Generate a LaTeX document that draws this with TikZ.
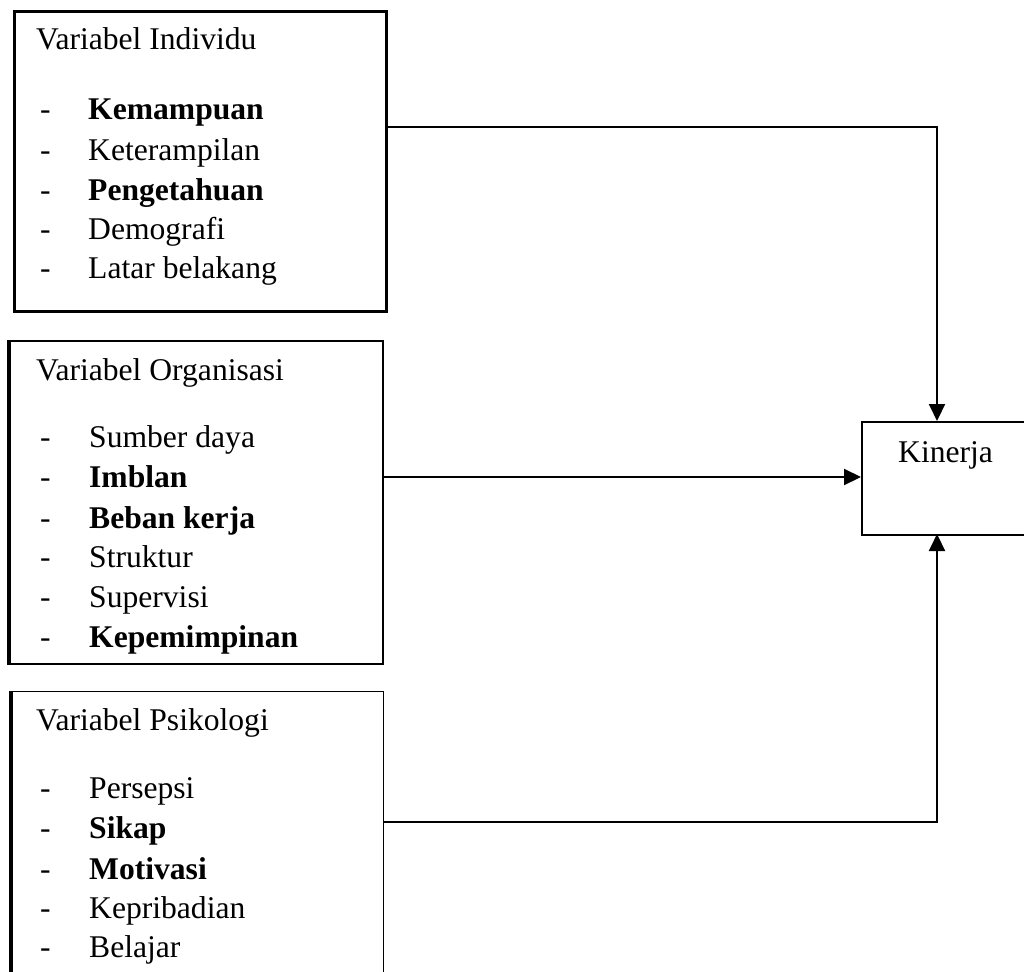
\documentclass[tikz,border=0pt]{standalone}
\usepackage{fontspec}
\setmainfont{Liberation Serif}
\usetikzlibrary{arrows.meta}
\begin{document}
\begin{tikzpicture}[x=1pt,y=-1pt,
  txt/.style={anchor=base west,inner sep=0pt,font=\fontsize{31.6}{36}\selectfont},
  btxt/.style={txt,font=\fontsize{31.6}{36}\selectfont\bfseries},
  box/.style={draw,line width=#1,inner sep=0pt,anchor=north west,fill=none},
  arr/.style={line width=2.1pt,-{Triangle[length=17pt,width=16pt]}}]
\useasboundingbox (0,0) rectangle (1024,971);
\clip (0,0) rectangle (1024,971);
% boxes
\node[box=2.6pt,minimum width=372pt,minimum height=300pt] (b1) at (13,10) {};
\node[box=1.6pt,minimum width=373pt,minimum height=323pt] (b2) at (9,340) {};
\node[box=1.3pt,minimum width=372pt,minimum height=320pt] (b3) at (11,691) {};
\draw[line width=4pt] (b2.north west) -- (b2.south west);
\draw[line width=4pt] (b3.north west) -- (b3.south west);
\node[box=2.2pt,minimum width=220pt,minimum height=113pt] (k) at (861,421) {};
\coordinate (kt) at (937,421);
\coordinate (kb) at (937,534);
% box 1 text
\node[txt] (t1) at (36,50) {Variabel Individu};
\node[txt] (d11) at (40,120) {-}; \node[btxt] (i11) at (88,120) {Kemampuan};
\node[txt] (d12) at (40,160) {-}; \node[txt] (i12) at (88,160) {Keterampilan};
\node[txt] (d13) at (40,200) {-}; \node[btxt] (i13) at (88,200) {Pengetahuan};
\node[txt] (d14) at (40,239) {-}; \node[txt] (i14) at (88,239) {Demografi};
\node[txt] (d15) at (40,278) {-}; \node[txt] (i15) at (88,278) {Latar belakang};
% box 2 text
\node[txt] (t2) at (36,380) {Variabel Organisasi};
\node[txt] (d21) at (40,447) {-}; \node[txt] (i21) at (89,447) {Sumber daya};
\node[txt] (d22) at (40,487) {-}; \node[btxt] (i22) at (89,487) {Imblan};
\node[txt] (d23) at (40,528) {-}; \node[btxt] (i23) at (89,528) {Beban kerja};
\node[txt] (d24) at (40,567) {-}; \node[txt] (i24) at (89,567) {Struktur};
\node[txt] (d25) at (40,607) {-}; \node[txt] (i25) at (89,607) {Supervisi};
\node[txt] (d26) at (40,647) {-}; \node[btxt] (i26) at (89,647) {Kepemimpinan};
% box 3 text
\node[txt] (t3) at (36,730) {Variabel Psikologi};
\node[txt] (d31) at (40,798) {-}; \node[txt] (i31) at (89,798) {Persepsi};
\node[txt] (d32) at (40,838) {-}; \node[btxt] (i32) at (89,838) {Sikap};
\node[txt] (d33) at (40,879) {-}; \node[btxt] (i33) at (89,879) {Motivasi};
\node[txt] (d34) at (40,918) {-}; \node[txt] (i34) at (89,918) {Kepribadian};
\node[txt] (d35) at (40,957) {-}; \node[txt] (i35) at (89,957) {Belajar};
% Kinerja text
\node[txt] (kt1) at (898,462) {Kinerja};
% connectors
\draw[arr] (b1.east |- 0,127) -| (kt);
\draw[arr] (b2.east |- 0,477) -- (k.west |- 0,477);
\draw[arr] (b3.east |- 0,822) -| (kb);
\end{tikzpicture}
\end{document}
